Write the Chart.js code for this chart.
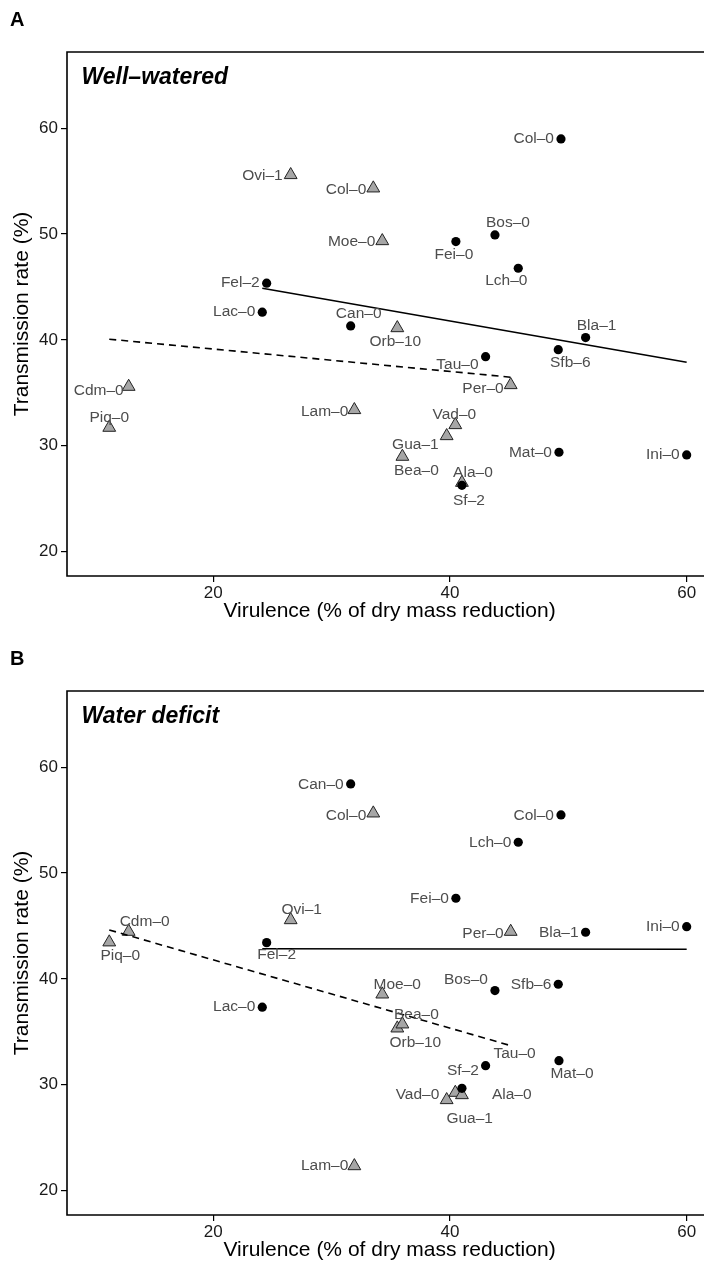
<!DOCTYPE html>
<html>
<head>
<meta charset="utf-8">
<script src="https://cdn.jsdelivr.net/npm/chart.js@4.4.1/dist/chart.umd.min.js"></script>
<style>
html, body { margin:0; padding:0; background:#fff; overflow:hidden; width:704px; height:1267px; }
canvas { position:absolute; left:0; }
#chartA { top:0; }
#chartB { top:639px; }
</style>
</head>
<body>
<canvas id="chartA" width="712" height="628"></canvas>
<canvas id="chartB" width="712" height="628"></canvas>
<script>
// genotypes drawn as black circles / grey triangles
const circleNames   = ['Col–0','Bos–0','Fei–0','Lch–0','Fel–2','Lac–0','Can–0','Tau–0','Sfb–6','Bla–1','Mat–0','Ini–0','Sf–2'];
const triangleNames = ['Ovi–1','Col–0','Moe–0','Orb–10','Per–0','Cdm–0','Piq–0','Lam–0','Vad–0','Gua–1','Bea–0','Ala–0'];

// virulence (% of dry mass reduction), same in both panels
const virulenceCircle   = [49.38, 43.80, 40.50, 45.77, 24.51, 24.14, 31.61, 43.01, 49.15, 51.46, 49.21, 60.00, 41.01];
const virulenceTriangle = [26.54, 33.52, 34.28, 35.55, 45.13, 12.85, 11.21, 31.92, 40.45, 39.72, 35.98, 41.01];

// transmission rate (%)
const wellCircle      = [58.99, 49.92, 49.29, 46.77, 45.36, 42.62, 41.32, 38.42, 39.08, 40.22, 29.39, 29.14, 26.27];
const wellTriangle    = [55.59, 54.33, 49.35, 41.13, 35.75, 35.59, 31.72, 33.39, 31.97, 30.93, 28.98, 26.52];
const deficitCircle   = [55.49, 38.90, 47.62, 52.91, 43.43, 37.33, 58.42, 31.81, 39.50, 44.41, 32.28, 44.94, 29.67];
const deficitTriangle = [45.57, 55.65, 38.55, 35.34, 44.47, 44.47, 43.47, 22.33, 29.26, 28.57, 35.72, 29.04];

// fitted lines, value at the smallest and largest virulence of each group
const fitWellCircle      = [44.88, 37.89];
const fitWellTriangle    = [40.07, 36.48];
const fitDeficitCircle   = [42.85, 42.80];
const fitDeficitTriangle = [44.63, 33.70];

const xTicks = [20, 40, 60];
const yTicks = [20, 30, 40, 50, 60];
const panelLetters = ['A', 'B'];
const panelTitles = ['Well–watered', 'Water deficit'];

// label placement: [align, dx, dy] in px from the point
const labelsWell = {
  circle: [['r',-7,0],['c',13,-12],['c',-2,13],['c',-12,12],['r',-7,0],['r',-7,0],['c',8,-12],['r',-7,8],['c',12,13],['c',11,-12],['r',-7,0],['r',-7,0],['c',7,15]],
  triangle: [['r',-8,1],['r',-7,1],['r',-7,1],['c',-2,14],['r',-7,4],['r',-5,4],['c',0,-10],['r',-6,2],['c',-1,-10],['r',-8,9],['c',14,14],['c',11,-10]]
};
const labelsDeficit = {
  circle: [['r',-7,1],['r',-7,-11],['r',-7,0],['r',-7,0],['c',10,12],['r',-7,0],['r',-7,1],['c',29,-12],['r',-7,0],['r',-7,0],['c',13,13],['r',-7,0],['c',1,-18]],
  triangle: [['c',11,-10],['r',-7,2],['c',15,-10],['c',18,14],['r',-7,2],['c',16,-10],['c',11,14],['r',-6,0],['r',-16,2],['c',23,19],['c',14,-10],['l',30,0]]
};

const FONT = '"Liberation Sans", Arial, Helvetica, sans-serif';

function pts(xs, ys){ return xs.map((x,i)=>({x:x, y:ys[i]})); }
function fitPts(xs, ends){
  return [{x:Math.min(...xs), y:ends[0]}, {x:Math.max(...xs), y:ends[1]}];
}

function decor(idx, labelPos){
  return {
    id: 'decor' + idx,
    afterDatasetsDraw(chart){
      const ctx = chart.ctx, a = chart.chartArea;
      const sx = chart.scales.x, sy = chart.scales.y;
      ctx.save();
      // panel frame (right side is off the picture)
      ctx.strokeStyle = '#000'; ctx.lineWidth = 1.6;
      ctx.beginPath();
      ctx.moveTo(chart.width, a.top); ctx.lineTo(a.left, a.top);
      ctx.lineTo(a.left, a.bottom); ctx.lineTo(chart.width, a.bottom);
      ctx.stroke();

      // point labels
      ctx.font = '15.5px ' + FONT;
      ctx.fillStyle = '#4d4d4d';
      ctx.textBaseline = 'middle';
      const groups = [
        [circleNames, chart.data.datasets[2].data, labelPos.circle],
        [triangleNames, chart.data.datasets[3].data, labelPos.triangle]
      ];
      groups.forEach(([names, data, pos]) => {
        names.forEach((n, i) => {
          const p = pos[i];
          const px = sx.getPixelForValue(data[i].x), py = sy.getPixelForValue(data[i].y);
          ctx.textAlign = p[0] === 'r' ? 'right' : (p[0] === 'l' ? 'left' : 'center');
          ctx.fillText(n, px + p[1], py + p[2]);
        });
      });

      // panel title and letter
      ctx.fillStyle = '#000';
      ctx.textAlign = 'left';
      ctx.font = 'italic bold 23px ' + FONT;
      ctx.fillText(panelTitles[idx], a.left + 14.5, a.top + 26);
      ctx.font = 'bold 20px ' + FONT;
      ctx.fillText(panelLetters[idx], 10, 20);
      ctx.restore();
    }
  };
}

function makeChart(id, idx, yCircle, yTriangle, fitC, fitT, labelPos){
  return new Chart(document.getElementById(id), {
    type: 'scatter',
    data: {
      datasets: [
        { type:'line', data: fitPts(virulenceCircle, fitC), borderColor:'#000', borderWidth:1.6, pointRadius:0, fill:false },
        { type:'line', data: fitPts(virulenceTriangle, fitT), borderColor:'#000', borderWidth:1.6, borderDash:[7,5], pointRadius:0, fill:false },
        { data: pts(virulenceCircle, yCircle), pointStyle:'circle', pointRadius:4.6, backgroundColor:'#000', borderWidth:0 },
        { data: pts(virulenceTriangle, yTriangle), pointStyle:'triangle', pointRadius:7.4, backgroundColor:'#a6a6a6', borderColor:'#222', borderWidth:1 }
      ]
    },
    options: {
      responsive: false,
      animation: false,
      events: [],
      layout: { padding: { top:52, left:0, right:0, bottom:0 }, autoPadding: false },
      plugins: { legend:{display:false}, tooltip:{enabled:false} },
      scales: {
        x: {
          type:'linear', min:7.64, max:62.14,
          afterBuildTicks: s => { s.ticks = xTicks.map(v => ({value:v})); },
          afterFit: s => { s.height = 52; },
          grid: { drawOnChartArea:false, drawTicks:true, tickLength:6, color:'#000', lineWidth:1.2 },
          border: { display:false },
          ticks: { color:'#1a1a1a', font:{size:17, family:FONT}, padding:1 },
          title: { display:true, text:'Virulence (% of dry mass reduction)', color:'#000', font:{size:21, family:FONT}, padding:{top:0, bottom:4} }
        },
        y: {
          type:'linear', min:17.7, max:67.2,
          afterBuildTicks: s => { s.ticks = yTicks.map(v => ({value:v})); },
          afterFit: s => { s.width = 67; },
          grid: { drawOnChartArea:false, drawTicks:true, tickLength:6, color:'#000', lineWidth:1.2 },
          border: { display:false },
          ticks: { color:'#1a1a1a', font:{size:17, family:FONT}, padding:3 },
          title: { display:true, text:'Transmission rate (%)', color:'#000', font:{size:21, family:FONT}, padding:{top:10, bottom:0} }
        }
      }
    },
    plugins: [decor(idx, labelPos)]
  });
}

makeChart('chartA', 0, wellCircle, wellTriangle, fitWellCircle, fitWellTriangle, labelsWell);
makeChart('chartB', 1, deficitCircle, deficitTriangle, fitDeficitCircle, fitDeficitTriangle, labelsDeficit);
</script>
</body>
</html>
